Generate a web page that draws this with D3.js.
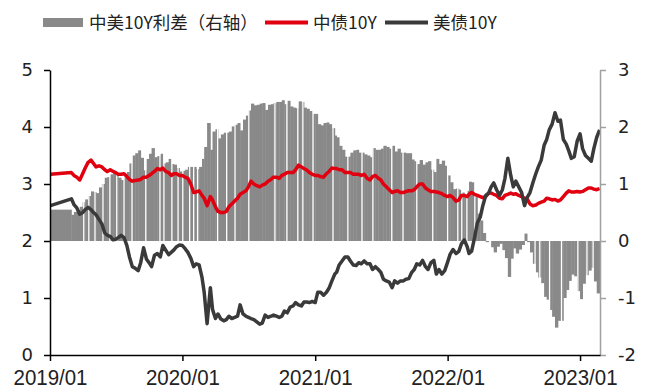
<!DOCTYPE html>
<html>
<head>
<meta charset="utf-8">
<script src="https://cdn.jsdelivr.net/npm/d3@7"></script>
<style>
body { margin: 0; background: #fff; }
</style>
</head>
<body>
<script>
// weekly-ish samples
var dates = [
  "2019-01-02","2019-03-01","2019-03-08","2019-03-16","2019-03-24",
  "2019-04-01","2019-04-08","2019-04-16","2019-04-24","2019-05-01","2019-05-08","2019-05-16","2019-05-24",
  "2019-06-01","2019-06-08","2019-06-16","2019-06-24","2019-07-01","2019-07-08","2019-07-16","2019-07-24",
  "2019-08-01","2019-08-08","2019-08-16","2019-08-24","2019-09-01","2019-09-08","2019-09-16","2019-09-24",
  "2019-10-01","2019-10-08","2019-10-16","2019-10-24","2019-11-01","2019-11-08","2019-11-16","2019-11-24",
  "2019-12-01","2019-12-08","2019-12-16","2019-12-24",
  "2020-01-01","2020-01-08","2020-01-16","2020-01-24","2020-02-01","2020-02-08","2020-02-16","2020-02-24",
  "2020-03-01","2020-03-09","2020-03-18","2020-03-24","2020-04-01","2020-04-08","2020-04-16","2020-04-24",
  "2020-05-01","2020-05-08","2020-05-16","2020-05-24","2020-06-01","2020-06-08","2020-06-16","2020-06-24",
  "2020-07-01","2020-07-08","2020-07-16","2020-07-24","2020-08-01","2020-08-08","2020-08-16","2020-08-24",
  "2020-09-01","2020-09-08","2020-09-16","2020-09-24","2020-10-01","2020-10-08","2020-10-16","2020-10-24",
  "2020-11-01","2020-11-08","2020-11-16","2020-11-24","2020-12-01","2020-12-08","2020-12-16","2020-12-24",
  "2021-01-01","2021-01-08","2021-01-16","2021-01-24","2021-02-01","2021-02-08","2021-02-16","2021-02-24",
  "2021-03-01","2021-03-08","2021-03-16","2021-03-24","2021-04-01","2021-04-08","2021-04-16","2021-04-24",
  "2021-05-01","2021-05-08","2021-05-16","2021-05-24","2021-06-01","2021-06-08","2021-06-16","2021-06-24",
  "2021-07-01","2021-07-08","2021-07-16","2021-07-24","2021-08-01","2021-08-08","2021-08-16","2021-08-24",
  "2021-09-01","2021-09-08","2021-09-16","2021-09-24","2021-10-01","2021-10-08","2021-10-16","2021-10-24",
  "2021-11-01","2021-11-08","2021-11-16","2021-11-24","2021-12-01","2021-12-08","2021-12-16","2021-12-24",
  "2022-01-01","2022-01-08","2022-01-16","2022-01-24","2022-02-01","2022-02-08","2022-02-16","2022-02-24",
  "2022-03-01","2022-03-08","2022-03-16","2022-03-24","2022-04-01","2022-04-08","2022-04-16","2022-04-24",
  "2022-05-01","2022-05-08","2022-05-16","2022-05-24","2022-06-01","2022-06-08","2022-06-16","2022-06-24",
  "2022-07-01","2022-07-08","2022-07-16","2022-07-24","2022-08-01","2022-08-08","2022-08-16","2022-08-24",
  "2022-09-01","2022-09-08","2022-09-16","2022-09-24","2022-10-01","2022-10-08","2022-10-16","2022-10-24",
  "2022-11-01","2022-11-08","2022-11-16","2022-11-24","2022-12-01","2022-12-08","2022-12-16","2022-12-24",
  "2023-01-01","2023-01-08","2023-01-16","2023-01-24","2023-02-01","2023-02-08","2023-02-16","2023-02-24"
];

// 中债10Y
var cn = [
  3.17,3.20,3.15,3.12,3.07,
  3.18,3.28,3.38,3.42,3.36,3.30,3.32,3.30,
  3.25,3.22,3.25,3.22,3.20,3.17,3.17,3.18,
  3.13,3.08,3.05,3.06,3.07,3.08,3.12,3.12,
  3.15,3.18,3.22,3.27,3.25,3.28,3.22,3.20,
  3.15,3.18,3.18,3.15,
  3.15,3.12,3.10,3.00,2.85,2.86,2.88,2.80,
  2.75,2.62,2.78,2.72,2.60,2.52,2.50,2.50,
  2.52,2.60,2.65,2.70,2.75,2.82,2.85,2.88,
  2.95,3.05,3.00,2.97,2.95,2.98,3.00,3.05,
  3.08,3.12,3.12,3.10,3.15,3.17,3.20,3.20,
  3.20,3.25,3.33,3.30,3.27,3.25,3.20,3.17,
  3.15,3.15,3.13,3.12,3.18,3.22,3.28,3.27,
  3.27,3.25,3.25,3.20,3.20,3.20,3.17,3.17,
  3.17,3.15,3.17,3.10,3.07,3.13,3.15,3.10,
  3.07,3.00,2.95,2.90,2.85,2.87,2.88,2.85,
  2.85,2.87,2.88,2.88,2.90,2.95,3.00,3.00,
  2.93,2.90,2.87,2.87,2.86,2.85,2.83,2.80,
  2.78,2.80,2.76,2.70,2.72,2.80,2.80,2.78,
  2.82,2.85,2.82,2.80,2.78,2.76,2.78,2.84,
  2.84,2.82,2.80,2.75,2.74,2.80,2.82,2.84,
  2.82,2.83,2.80,2.78,2.75,2.74,2.65,2.62,
  2.63,2.66,2.68,2.70,2.75,2.74,2.72,2.73,
  2.70,2.72,2.78,2.84,2.88,2.86,2.86,2.87,
  2.86,2.87,2.90,2.93,2.93,2.91,2.90,2.92
];

// 美债10Y
var us = [
  2.62,2.74,2.64,2.58,2.47,
  2.50,2.55,2.59,2.55,2.50,2.46,2.38,2.30,
  2.14,2.10,2.08,2.02,2.03,2.06,2.10,2.06,
  1.92,1.72,1.55,1.52,1.48,1.62,1.88,1.68,
  1.62,1.55,1.75,1.78,1.72,1.92,1.84,1.76,
  1.80,1.84,1.90,1.93,
  1.92,1.87,1.80,1.70,1.55,1.60,1.58,1.36,
  1.10,0.55,1.18,0.80,0.64,0.72,0.63,0.60,
  0.62,0.68,0.64,0.66,0.68,0.88,0.72,0.68,
  0.66,0.64,0.62,0.58,0.54,0.56,0.70,0.66,
  0.68,0.70,0.68,0.66,0.68,0.77,0.74,0.84,
  0.86,0.92,0.88,0.86,0.93,0.93,0.92,0.94,
  0.92,1.10,1.10,1.05,1.10,1.17,1.30,1.42,
  1.45,1.58,1.65,1.72,1.72,1.65,1.58,1.57,
  1.62,1.60,1.65,1.60,1.60,1.50,1.55,1.50,
  1.45,1.33,1.30,1.28,1.18,1.30,1.26,1.30,
  1.30,1.33,1.34,1.45,1.50,1.60,1.58,1.66,
  1.55,1.50,1.62,1.66,1.42,1.50,1.42,1.48,
  1.63,1.77,1.85,1.78,1.82,1.95,2.02,1.90,
  1.78,1.82,2.05,2.32,2.42,2.62,2.80,2.84,
  2.95,3.02,2.90,2.80,2.90,3.10,3.45,3.15,
  2.95,3.05,2.95,2.85,2.62,2.76,2.85,3.02,
  3.18,3.30,3.42,3.68,3.78,3.95,4.05,4.25,
  4.10,4.12,3.78,3.70,3.58,3.45,3.48,3.75,
  3.88,3.62,3.50,3.45,3.40,3.62,3.82,3.95
];

// days with no spread bar (white slits in the columns)
var gapDates = [
  "2019-04-04","2019-04-18","2019-05-05","2019-05-27","2019-06-15","2019-07-04","2019-07-24","2019-08-15",
  "2019-09-22","2019-10-31","2019-11-11","2019-12-03","2019-12-20","2020-01-02","2020-01-21","2020-02-01",
  "2020-02-12","2020-04-07","2020-05-02","2020-05-25","2020-07-02","2020-09-12","2020-10-15","2020-11-14",
  "2020-11-28","2020-12-26","2021-02-19","2021-04-01","2021-05-10","2021-06-09","2021-07-31","2021-08-31",
  "2021-10-08","2021-11-21","2022-01-01","2022-01-29","2022-02-09","2022-02-23","2022-03-17","2022-08-30",
  "2022-09-12","2022-10-09","2022-11-11","2022-12-26","2023-01-20","2023-02-06"
];

var yearTicks = ["2019-01-01","2020-01-01","2021-01-01","2022-01-01","2023-01-01"];
var leftTicks = [0, 1, 2, 3, 4, 5];
var rightTicks = [-2, -1, 0, 1, 2, 3];
var seriesNames = ["中美10Y利差（右轴）", "中债10Y", "美债10Y"];

var width = 654,
    height = 392,
    x0 = 50, x1 = 600, yTop = 70, yBottom = 355;

var parse = d3.timeParse("%Y-%m-%d");
var rows = dates.map(function(d, i) {
  return { date: parse(d), cn: cn[i], us: us[i], spread: cn[i] - us[i] };
});

var x = d3.scaleTime()
    .domain([parse("2019-01-01"), parse("2023-02-25")])
    .range([x0, x1]);
var yL = d3.scaleLinear().domain([0, 5]).range([yBottom, yTop]);
var yR = d3.scaleLinear().domain([-2, 3]).range([yBottom, yTop]);

var svg = d3.select("body").append("svg")
    .attr("width", width)
    .attr("height", height)
    .style("background", "#fff");

svg.append("clipPath").attr("id", "plot")
  .append("rect")
    .attr("x", x0).attr("y", yTop - 10)
    .attr("width", x1 - x0).attr("height", yBottom - yTop + 10);

var plot = svg.append("g").attr("clip-path", "url(#plot)");

// spread columns, each spanning to the next sample
plot.selectAll("rect.bar")
    .data(rows.slice(0, -1))
    .enter().append("rect")
    .attr("class", "bar")
    .attr("x", function(d) { return x(d.date); })
    .attr("width", function(d, i) { return x(rows[i + 1].date) - x(d.date) + 0.4; })
    .attr("y", function(d) { return Math.min(yR(d.spread), yR(0)); })
    .attr("height", function(d) { return Math.abs(yR(d.spread) - yR(0)); })
    .attr("fill", "#898989");

plot.selectAll("line.gap")
    .data(gapDates)
    .enter().append("line")
    .attr("class", "gap")
    .attr("x1", function(d) { return x(parse(d)); })
    .attr("x2", function(d) { return x(parse(d)); })
    .attr("y1", yR(3))
    .attr("y2", yR(-2))
    .attr("stroke", "#fff")
    .attr("stroke-width", 1.3);

var lineCn = d3.line()
    .x(function(d) { return x(d.date); })
    .y(function(d) { return yL(d.cn); });
var lineUs = d3.line()
    .x(function(d) { return x(d.date); })
    .y(function(d) { return yL(d.us); });

plot.append("path")
    .datum(rows)
    .attr("d", lineCn)
    .attr("fill", "none")
    .attr("stroke", "#e0000f")
    .attr("stroke-width", 3.5)
    .attr("stroke-linejoin", "round");

plot.append("path")
    .datum(rows)
    .attr("d", lineUs)
    .attr("fill", "none")
    .attr("stroke", "#3a3a3a")
    .attr("stroke-width", 3.5)
    .attr("stroke-linejoin", "round");

// axes
var axisFont = "'DejaVu Sans', sans-serif";

var gL = svg.append("g")
    .attr("transform", "translate(" + x0 + ",0)")
    .call(d3.axisLeft(yL).tickValues(leftTicks).tickSize(6).tickSizeOuter(0).tickPadding(11)
      .tickFormat(d3.format("d")));
gL.selectAll("path, line").attr("stroke", "#000").attr("stroke-width", 1.5);

var gR = svg.append("g")
    .attr("transform", "translate(" + x1 + ",0)")
    .call(d3.axisRight(yR).tickValues(rightTicks).tickSize(6).tickSizeOuter(0).tickPadding(12)
      .tickFormat(function(d) { return d < 0 ? "-" + Math.abs(d) : d; }));
gR.selectAll("path, line").attr("stroke", "#a0a0a0").attr("stroke-width", 1.5);

var gB = svg.append("g")
    .attr("transform", "translate(0," + yBottom + ")")
    .call(d3.axisBottom(x).tickValues(yearTicks.map(parse)).tickSize(6).tickSizeOuter(0).tickPadding(8)
      .tickFormat(d3.timeFormat("%Y/%m")));
gB.selectAll("path, line").attr("stroke", "#000").attr("stroke-width", 1.5);

svg.selectAll(".tick text")
    .attr("fill", "#222")
    .style("font-family", axisFont)
    .style("font-size", "18px");
gB.selectAll(".tick text")
    .style("font-family", "'Liberation Sans', sans-serif")
    .style("font-size", "22px")
    .attr("textLength", 74)
    .attr("lengthAdjust", "spacingAndGlyphs");

// legend
var legend = svg.append("g")
    .style("font-family", "'Noto Sans CJK SC', sans-serif")
    .style("font-size", "17.5px")
    .attr("fill", "#222");

legend.append("rect")
    .attr("x", 43).attr("y", 18).attr("width", 40).attr("height", 9)
    .attr("fill", "#898989");
legend.append("text").attr("x", 89).attr("y", 29).text(seriesNames[0]);

legend.append("line")
    .attr("x1", 265).attr("x2", 308).attr("y1", 22.5).attr("y2", 22.5)
    .attr("stroke", "#e0000f").attr("stroke-width", 4);
legend.append("text").attr("x", 313).attr("y", 29).text(seriesNames[1]);

legend.append("line")
    .attr("x1", 385).attr("x2", 428).attr("y1", 22.5).attr("y2", 22.5)
    .attr("stroke", "#3a3a3a").attr("stroke-width", 4);
legend.append("text").attr("x", 433).attr("y", 29).text(seriesNames[2]);
</script>
</body>
</html>
